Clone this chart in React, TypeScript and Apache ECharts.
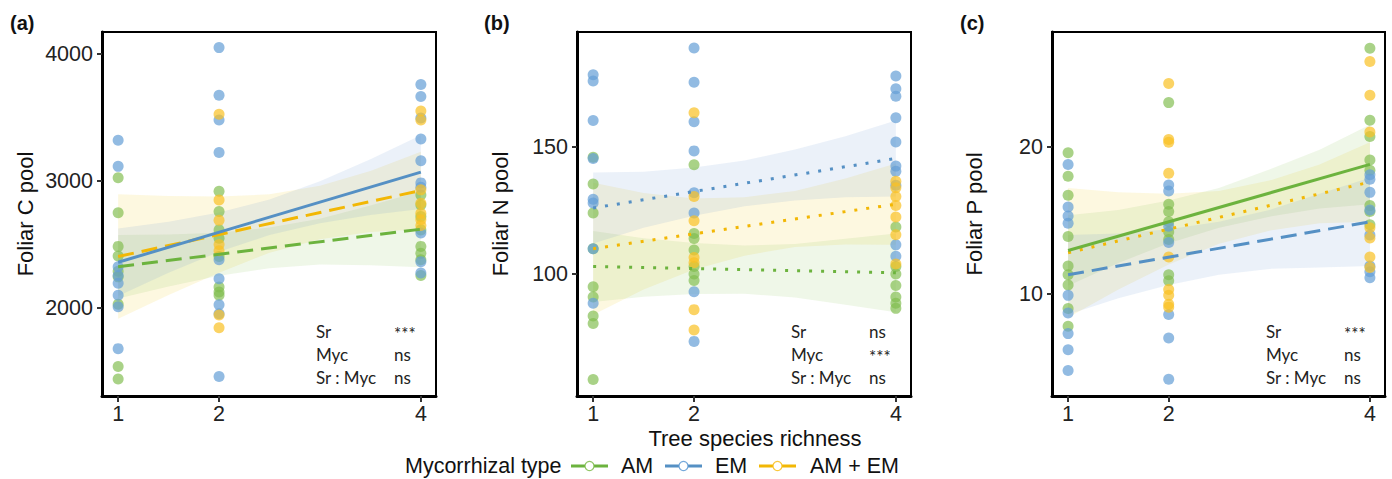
import React, { useEffect, useRef } from "react";
import * as echarts from "echarts";

// ---------- shared ----------
const RICHNESS_TICKS = [1, 2, 4];
const FIT_X = [1, 4];
const BAND_X = [1, 1.5, 2, 2.5, 3, 3.5, 4];
const GROUPS = ["AM", "EM", "AM + EM"];

// ---------- (a) Foliar C pool ----------
const C_AM_1 = [3025, 2750, 2485, 2410, 2290, 2245, 2030, 1540, 1440];
const C_AM_2 = [2920, 2760, 2615, 2550, 2405, 2165, 2125, 2100];
const C_AM_4 = [2890, 2810, 2720, 2615, 2485, 2430, 2380, 2255];
const C_EM_1 = [3320, 3115, 2325, 2255, 2195, 2100, 2010, 1680];
const C_EM_2 = [4050, 3675, 3480, 3225, 2380, 2230, 2025, 1955, 1460];
const C_EM_4 = [3760, 3665, 3495, 3330, 3160, 2985, 2950, 2590, 2365, 2275];
const C_MIX_2 = [3525, 2850, 2690, 2500, 2450, 1945, 1845];
const C_MIX_4 = [3550, 3480, 2930, 2825, 2745, 2695, 2650];
const C_FIT_AM = [2325, 2620];
const C_FIT_EM = [2360, 3070];
const C_FIT_MIX = [2405, 2925];
const C_BAND_AM_LO = [2075, 2169, 2253, 2313, 2342, 2336, 2320];
const C_BAND_AM_HI = [2575, 2579, 2593, 2633, 2702, 2806, 2920];
const C_BAND_EM_LO = [2095, 2278, 2442, 2575, 2668, 2732, 2780];
const C_BAND_EM_HI = [2625, 2678, 2752, 2855, 2998, 3172, 3360];
const C_BAND_MIX_LO = [1915, 2102, 2278, 2435, 2542, 2598, 2620];
const C_BAND_MIX_HI = [2895, 2882, 2878, 2895, 2962, 3078, 3230];
const C_TICKS = [2000, 3000, 4000];
const C_STATS = ["***", "ns", "ns"];

// ---------- (b) Foliar N pool ----------
const N_AM_1 = [146, 135.5, 124, 110, 95, 91, 83.5, 80.5, 58.5];
const N_AM_2 = [143, 116, 114, 109.5, 103, 100, 97.5];
const N_AM_4 = [118.5, 103, 100, 95.5, 91, 88.5, 86.5];
const N_EM_1 = [178.5, 176, 160.5, 145.5, 129.5, 128, 110, 88.5];
const N_EM_2 = [189, 175.5, 160, 148.5, 132, 124, 93, 73.5];
const N_EM_4 = [178, 173, 170, 161.5, 152, 142.5, 140.5, 135, 111.5, 107];
const N_MIX_2 = [163.5, 130.5, 121, 106.5, 104.5, 86, 78];
const N_MIX_4 = [136.5, 134, 130.5, 127, 122.5, 115.5, 104];
const N_FIT_AM = [103, 100.5];
const N_FIT_EM = [126, 145.5];
const N_FIT_MIX = [110, 127.5];
const N_BAND_AM_LO = [89, 91.1, 92.2, 92.25, 90.8, 87.9, 85];
const N_BAND_AM_HI = [117, 114.1, 112.2, 111.25, 111.8, 113.9, 116];
const N_BAND_EM_LO = [112, 118.25, 123, 126.75, 129, 130.25, 130.5];
const N_BAND_EM_HI = [140, 140.25, 142, 144.75, 149, 154.25, 160.5];
const N_BAND_MIX_LO = [84, 93.9, 101.8, 107.25, 110.7, 111.6, 111.5];
const N_BAND_MIX_HI = [136, 131.9, 129.8, 130.25, 132.7, 137.6, 143.5];
const N_TICKS = [100, 150];
const N_STATS = ["ns", "***", "ns"];

// ---------- (c) Foliar P pool ----------
const P_AM_1 = [19.6, 18.0, 16.7, 13.9, 11.9, 11.3, 10.6, 9.0, 7.8];
const P_AM_2 = [23.0, 16.1, 15.6, 14.9, 14.2, 13.7, 11.3, 10.9];
const P_AM_4 = [26.7, 21.8, 20.7, 19.1, 18.4, 16.0, 15.6, 14.7];
const P_EM_1 = [18.8, 15.9, 15.3, 14.8, 9.9, 8.7, 7.3, 6.2, 4.8];
const P_EM_2 = [17.4, 17.0, 14.6, 13.5, 8.6, 7.0, 4.2];
const P_EM_4 = [18.1, 17.8, 16.9, 15.7, 14.0, 11.9, 11.5, 11.1];
const P_MIX_2 = [24.3, 20.5, 20.3, 18.2, 12.5, 10.3, 9.9, 9.3, 9.1];
const P_MIX_4 = [25.8, 23.5, 21.0, 14.5, 13.8, 12.5, 11.8];
const P_FIT_AM = [12.95, 18.8];
const P_FIT_EM = [11.3, 14.9];
const P_FIT_MIX = [12.8, 17.6];
const P_BAND_AM_LO = [10.55, 12.1, 13.45, 14.5, 15.25, 15.8, 16.1];
const P_BAND_AM_HI = [15.35, 15.7, 16.35, 17.2, 18.45, 19.8, 21.5];
const P_BAND_EM_LO = [8.6, 9.7, 10.6, 11.3, 11.7, 11.8, 11.9];
const P_BAND_EM_HI = [14.0, 14.1, 14.4, 14.9, 15.7, 16.8, 17.9];
const P_BAND_MIX_LO = [8.4, 10.3, 12.0, 13.4, 14.3, 14.8, 14.9];
const P_BAND_MIX_HI = [17.2, 16.9, 16.8, 17.0, 17.7, 18.8, 20.3];
const P_TICKS = [10, 20];
const P_STATS = ["***", "ns", "ns"];

const STAT_TERMS = ["Sr", "Myc", "Sr : Myc"];

// ---------- styles ----------
const FONT = "'Liberation Sans', Arial, sans-serif";
const STAT_FONT = "Lato, 'Open Sans', sans-serif";
const LINE_COL = { AM: "#6cb33e", EM: "#5590c4", MIX: "#f2b705" };
const PT_COL = {
  AM: "rgba(128,188,78,0.85)",
  EM: "rgba(100,158,214,0.88)",
  MIX: "rgba(250,193,35,0.88)",
};
const BAND_COL = {
  AM: "rgba(130,190,80,0.13)",
  EM: "rgba(100,150,205,0.13)",
  MIX: "rgba(245,210,60,0.16)",
};
const DASH = [16, 8];
const DOT = [3, 9];

const GRIDS = [
  { left: 102, top: 32, width: 334, height: 364, ymin: 1307, ymax: 4173 },
  { left: 577, top: 32, width: 334, height: 364, ymin: 52, ymax: 195.3 },
  { left: 1052, top: 32, width: 333, height: 364, ymin: 3.06, ymax: 27.8 },
];

function pts(xs: number[], vals: number[][]) {
  const out: number[][] = [];
  xs.forEach((x, i) => vals[i].forEach((v) => out.push([x, v])));
  return out;
}

function bandSeries(gi: number, key: string, lo: number[], hi: number[]) {
  return {
    type: "custom",
    xAxisIndex: gi,
    yAxisIndex: gi,
    silent: true,
    clip: true,
    z: 1,
    data: BAND_X.map((x, i) => [x, lo[i], hi[i]]),
    encode: { x: 0, y: [1, 2] },
    renderItem: (params: any, api: any) => {
      if (params.dataIndex !== 0) return null;
      const upper = BAND_X.map((x, i) => api.coord([x, hi[i]]));
      const lower = BAND_X.map((x, i) => api.coord([x, lo[i]])).reverse();
      return {
        type: "polygon",
        shape: { points: upper.concat(lower) },
        style: { fill: (BAND_COL as any)[key], stroke: "none" },
      };
    },
  };
}

function scatterSeries(gi: number, key: string, xs: number[], vals: number[][]) {
  return {
    type: "scatter",
    xAxisIndex: gi,
    yAxisIndex: gi,
    symbolSize: 11,
    itemStyle: { color: (PT_COL as any)[key] },
    data: pts(xs, vals),
    z: 3,
  };
}

function fitSeries(gi: number, key: string, fit: number[], type: any) {
  return {
    type: "line",
    xAxisIndex: gi,
    yAxisIndex: gi,
    symbol: "none",
    silent: true,
    lineStyle: { color: (LINE_COL as any)[key], width: 3, type, cap: "butt" },
    data: FIT_X.map((x, i) => [x, fit[i]]),
    z: 4,
  };
}

export default function App() {
  const ref = useRef<HTMLDivElement>(null);
  useEffect(() => {
    if (!ref.current) return;
    const chart = echarts.init(ref.current, null, { renderer: "svg" });

    const yTicks = [C_TICKS, N_TICKS, P_TICKS];
    const series: any[] = [
      bandSeries(0, "MIX", C_BAND_MIX_LO, C_BAND_MIX_HI),
      bandSeries(0, "AM", C_BAND_AM_LO, C_BAND_AM_HI),
      bandSeries(0, "EM", C_BAND_EM_LO, C_BAND_EM_HI),
      bandSeries(1, "MIX", N_BAND_MIX_LO, N_BAND_MIX_HI),
      bandSeries(1, "AM", N_BAND_AM_LO, N_BAND_AM_HI),
      bandSeries(1, "EM", N_BAND_EM_LO, N_BAND_EM_HI),
      bandSeries(2, "MIX", P_BAND_MIX_LO, P_BAND_MIX_HI),
      bandSeries(2, "AM", P_BAND_AM_LO, P_BAND_AM_HI),
      bandSeries(2, "EM", P_BAND_EM_LO, P_BAND_EM_HI),
      scatterSeries(0, "AM", [1, 2, 4], [C_AM_1, C_AM_2, C_AM_4]),
      scatterSeries(0, "EM", [1, 2, 4], [C_EM_1, C_EM_2, C_EM_4]),
      scatterSeries(0, "MIX", [2, 4], [C_MIX_2, C_MIX_4]),
      scatterSeries(1, "AM", [1, 2, 4], [N_AM_1, N_AM_2, N_AM_4]),
      scatterSeries(1, "EM", [1, 2, 4], [N_EM_1, N_EM_2, N_EM_4]),
      scatterSeries(1, "MIX", [2, 4], [N_MIX_2, N_MIX_4]),
      scatterSeries(2, "AM", [1, 2, 4], [P_AM_1, P_AM_2, P_AM_4]),
      scatterSeries(2, "EM", [1, 2, 4], [P_EM_1, P_EM_2, P_EM_4]),
      scatterSeries(2, "MIX", [2, 4], [P_MIX_2, P_MIX_4]),
      fitSeries(0, "AM", C_FIT_AM, DASH),
      fitSeries(0, "MIX", C_FIT_MIX, DASH),
      fitSeries(0, "EM", C_FIT_EM, "solid"),
      fitSeries(1, "AM", N_FIT_AM, DOT),
      fitSeries(1, "MIX", N_FIT_MIX, DOT),
      fitSeries(1, "EM", N_FIT_EM, DOT),
      fitSeries(2, "EM", P_FIT_EM, DASH),
      fitSeries(2, "MIX", P_FIT_MIX, DOT),
      fitSeries(2, "AM", P_FIT_AM, "solid"),
    ];

    const graphic: any[] = [];
    const panelLabels = ["(a)", "(b)", "(c)"];
    const panelLabelX = [10, 484, 960];
    const yTitles = ["Foliar C pool", "Foliar N pool", "Foliar P pool"];
    const yTitleX = [25, 500, 974];
    const stats = [C_STATS, N_STATS, P_STATS];
    GRIDS.forEach((g, i) => {
      graphic.push({
        type: "text",
        x: panelLabelX[i],
        y: 23,
        style: { text: panelLabels[i], font: `bold 20px ${FONT}`, fill: "#111", verticalAlign: "middle" },
      });
      graphic.push({
        type: "text",
        x: yTitleX[i],
        y: 214,
        rotation: Math.PI / 2,
        style: {
          text: yTitles[i],
          font: `22px ${FONT}`,
          fill: "#111",
          align: "center",
          verticalAlign: "middle",
        },
      });
      STAT_TERMS.forEach((t, r) => {
        const y = 331 + r * 23;
        graphic.push({
          type: "text",
          x: g.left + 214,
          y,
          style: { text: t, font: `17px ${STAT_FONT}`, fill: "#222", verticalAlign: "middle" },
        });
        const isStar = stats[i][r] === "***";
        graphic.push({
          type: "text",
          x: g.left + 292,
          y: isStar ? y + 2 : y,
          style: {
            text: stats[i][r],
            font: `17px ${STAT_FONT}`,
            fill: "#222",
            verticalAlign: "middle",
          },
        });
      });
    });
    graphic.push({
      type: "text",
      x: 755,
      y: 438,
      style: { text: "Tree species richness", font: `22px ${FONT}`, fill: "#111", align: "center", verticalAlign: "middle" },
    });
    graphic.push({
      type: "text",
      x: 405,
      y: 466,
      style: { text: "Mycorrhizal type", font: `21.5px ${FONT}`, fill: "#111", verticalAlign: "middle" },
    });
    const legKeys = ["AM", "EM", "MIX"];
    const legLineX = [571, 665, 759];
    const legTextX = [621, 715, 810];
    legKeys.forEach((k, i) => {
      const col = (LINE_COL as any)[k];
      graphic.push({
        type: "line",
        shape: { x1: legLineX[i], y1: 466, x2: legLineX[i] + 37, y2: 466 },
        style: { stroke: col, lineWidth: 3 },
      });
      graphic.push({
        type: "circle",
        shape: { cx: legLineX[i] + 18.5, cy: 466, r: 4.5 },
        style: { stroke: (PT_COL as any)[k], fill: "#fff", lineWidth: 1.2 },
      });
      graphic.push({
        type: "text",
        x: legTextX[i],
        y: 466,
        style: { text: GROUPS[i], font: `21.5px ${FONT}`, fill: "#111", verticalAlign: "middle" },
      });
    });

    chart.setOption({
      animation: false,
      textStyle: { fontFamily: FONT },
      grid: GRIDS.map((g) => ({
        left: g.left,
        top: g.top,
        width: g.width,
        height: g.height,
        show: true,
        borderColor: "#000",
        borderWidth: 2,
        backgroundColor: "transparent",
      })),
      xAxis: GRIDS.map((g, i) => ({
        type: "value",
        gridIndex: i,
        min: 0.84,
        max: 4.15,
        splitLine: { show: false },
        axisLine: { show: true, onZero: false, lineStyle: { color: "#000", width: 3 } },
        axisTick: {
          show: true,
          customValues: RICHNESS_TICKS,
          length: 6,
          lineStyle: { color: "#333", width: 2 },
        },
        axisLabel: {
          customValues: RICHNESS_TICKS,
          fontSize: 21.5,
          color: "#222",
          margin: 7,
          fontFamily: FONT,
          formatter: (v: number) => String(v),
        },
      })),
      yAxis: GRIDS.map((g, i) => ({
        type: "value",
        gridIndex: i,
        min: g.ymin,
        max: g.ymax,
        splitLine: { show: false },
        axisLine: { show: true, onZero: false, lineStyle: { color: "#000", width: 3 } },
        axisTick: {
          show: true,
          customValues: yTicks[i],
          length: 5,
          lineStyle: { color: "#333", width: 2 },
        },
        axisLabel: {
          customValues: yTicks[i],
          fontSize: 21.5,
          color: "#222",
          margin: 9,
          fontFamily: FONT,
          formatter: (v: number) => String(v),
        },
      })),
      series,
      graphic,
    });
    return () => chart.dispose();
  }, []);

  return (
    <div
      ref={ref}
      style={{ position: "fixed", left: 0, top: 0, width: 1392, height: 479, background: "#fff" }}
    />
  );
}
